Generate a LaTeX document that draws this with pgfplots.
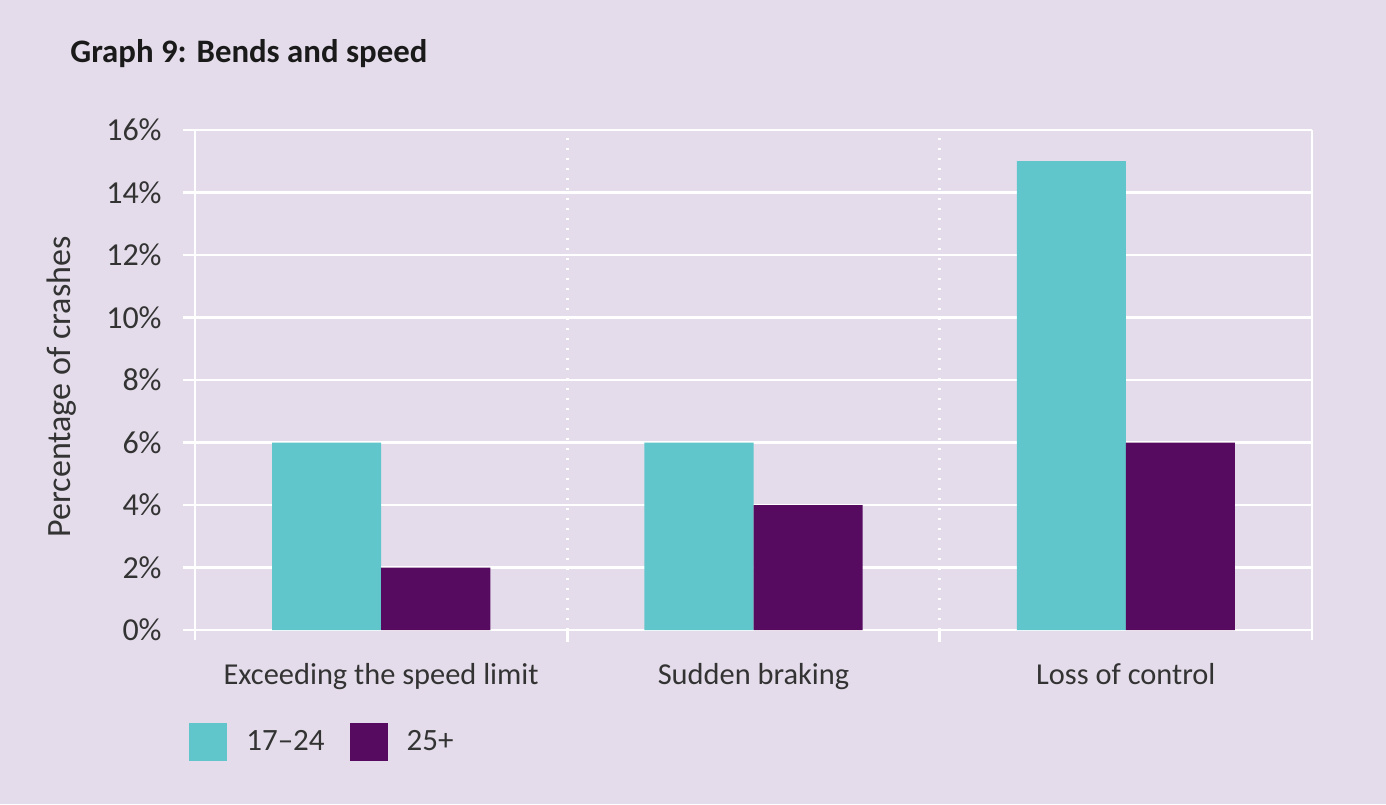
\documentclass[border=0pt]{standalone}
\usepackage{fontspec}
\setmainfont{Carlito}
\usepackage{pgfplots}
\pgfplotsset{compat=1.18}
\definecolor{bg}{HTML}{E4DCEA}
\definecolor{teal17}{HTML}{61C6CB}
\definecolor{purp25}{HTML}{560A60}
\definecolor{txt}{HTML}{333333}
\definecolor{titlec}{HTML}{1A1A1A}
\begin{document}
\begin{tikzpicture}[x=1pt,y=1pt]
\fill[bg] (0,0) rectangle (693,402);
\useasboundingbox (0,0) rectangle (693,402);
\node[anchor=base west, inner sep=0pt, font=\fontsize{16.4}{19}\selectfont\bfseries, text=titlec] at (35,370.5) {Graph 9: Bends and speed};
\begin{axis}[
  at={(97.5pt,87pt)}, anchor=south west,
  scale only axis, width=558.5pt, height=250pt,
  xmin=-0.5, xmax=2.5, ymin=0, ymax=16,
  axis line style={draw=none},
  tick align=outside,
  major tick length=6pt,
  xtick pos=bottom, ytick pos=left,
  ytick={0,2,4,6,8,10,12,14,16},
  yticklabels={0\%,2\%,4\%,6\%,8\%,10\%,12\%,14\%,16\%},
  ytick style={draw=white, line width=1.2pt},
  ymajorgrids=true,
  major y grid style={white, line width=1.2pt},
  xtick={0,1,2},
  xticklabels={Exceeding the speed limit,Sudden braking,Loss of control},
  xtick style={draw=none},
  extra x ticks={0.5,1.5},
  extra x tick labels={},
  extra x tick style={xtick style={draw=white, line width=1.2pt, solid}, xmajorgrids=true, major x grid style={white, line width=1.2pt, dash pattern=on 1.2pt off 3.8pt}},
  yticklabel style={anchor=east, inner sep=0pt, xshift=-10.5pt, font=\fontsize{16}{19}\selectfont, text=txt},
  xticklabel style={anchor=base, inner sep=0pt, yshift=-21pt, font=\fontsize{15.2}{18}\selectfont, text=txt},
  ylabel={Percentage of crashes},
  ylabel style={at={(axis description cs:-0.119,0.486)}, anchor=center, font=\fontsize{17}{20}\selectfont, text=txt},
  legend columns=-1,
  legend image code/.code={\fill[#1] (0pt,-9.5pt) rectangle (19pt,9.5pt);},
  legend style={at={(axis description cs:-0.0054,-0.224)}, anchor=west, draw=none, fill=none, inner sep=0pt,
    nodes={inner sep=0pt, font=\fontsize{15.5}{18}\selectfont, text=txt},
    /tikz/every odd column/.append style={column sep=9.5pt},
    /tikz/every even column/.append style={column sep=12.5pt}},
  clip=false,
]
\addplot[ybar, fill=teal17, draw=none, bar width=0.293, bar shift=-0.1465] coordinates {(0,6) (1,6) (2,15)};
\addplot[ybar, fill=purp25, draw=none, bar width=0.293, bar shift=0.1465] coordinates {(0,2) (1,4) (2,6)};
\legend{17--24,25+}
\draw[white, line width=1.2pt] (axis cs:-0.5,16) -- ([yshift=-5pt]axis cs:-0.5,0);
\draw[white, line width=1.2pt] (axis cs:2.5,16) -- ([yshift=-5pt]axis cs:2.5,0);
\end{axis}
\end{tikzpicture}
\end{document}
